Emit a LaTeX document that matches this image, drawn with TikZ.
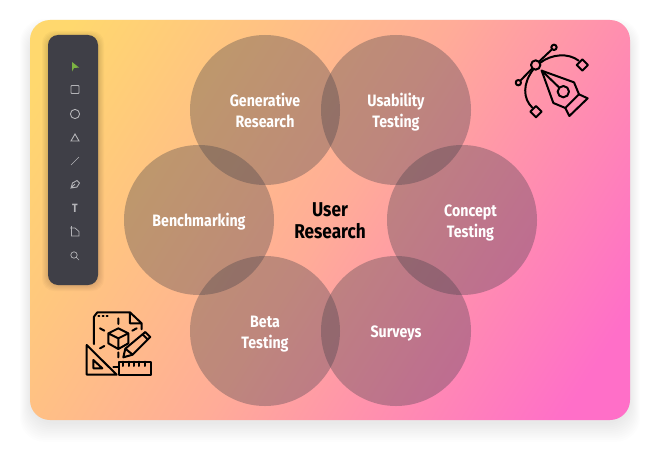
\documentclass[tikz,border=0pt]{standalone}
\usepackage{fontspec}
\setmainfont{Fira Sans}[FakeStretch=0.86]
\usetikzlibrary{positioning}

\definecolor{cardyellow}{HTML}{FFD86E}
\definecolor{cardpeach}{HTML}{FFAC98}
\definecolor{cardpink}{HTML}{FF6FC8}
\definecolor{barcolor}{HTML}{3F3F47}
\definecolor{toolcolor}{HTML}{B4B4B8}
\definecolor{arrowcolor}{HTML}{7CB342}
\definecolor{bubblecolor}{HTML}{3C3C46}
\pgfdeclarehorizontalshading{cardfade}{100bp}{
  color(0bp)=(cardyellow); color(19bp)=(cardyellow);
  color(50bp)=(cardpeach); color(79bp)=(cardpink); color(100bp)=(cardpink)}

\begin{document}
\begin{tikzpicture}[x=1pt, y=-1pt,
	bubble/.style = { circle, fill=bubblecolor, fill opacity=0.33,
	minimum size=150pt, inner sep=0pt },
	bubbletext/.style = { text=white, font=\fontsize{16.5}{21}\selectfont\bfseries,
	align=center, yshift=-2.5pt },
	tool/.style = { draw=toolcolor, line width=0.9pt },
	icon/.style = { draw=black, line width=2pt, line join=round, line cap=round } ]

  \useasboundingbox (0,0) rectangle (660,460);
  \fill [white] (0,0) rectangle (660,460);

  % soft shadow round the card
  \foreach \d in {1,...,11}
	\fill [black, opacity=0.009, rounded corners=24pt]
	  (31-\d,30-\d) rectangle (629+\d,422+\d*1.8);

  \path [rounded corners=20pt, shading=cardfade, shading angle=-32]
	(30,20) rectangle (630,420);

  % toolbar
  \foreach \d in {1,...,7}
	\fill [black, opacity=0.025, rounded corners=12pt]
	  (49-\d,38-\d) rectangle (97+\d,284+\d);
  \fill [barcolor, rounded corners=10pt] (48,35) rectangle (98,285);
  \fill [arrowcolor] (72,62) -- (79,67.5) -- (74,68) -- (72,71.5) -- cycle;
  \draw [tool, rounded corners=0.8pt] (71,85.5) rectangle (79,93.5);
  \draw [tool] (75,114) circle (4.6);
  \draw [tool] (71,141) -- (75,134) -- (79,141) -- cycle;
  \draw [tool, line width=0.6pt] (71,165) -- (79,157);
  \draw [tool] (71,188) -- (72.5,183) -- (77,180.5) -- (79.5,183) -- (77,187) -- cycle
	(71,188) -- (75,184);
  \node [name=tooltext, text=toolcolor, inner sep=0pt,
	font=\fontsize{12}{12}\selectfont\bfseries] at (75,208) {T};
  \draw [tool, line width=0.7pt] (70,228) -- (75,228) -- (79,231.5) -- (79,236) -- (71.5,236) -- (71.5,226);
  \draw [tool, line width=0.7pt] (74,255) circle (3.2) (76.5,257.5) -- (79,260);

  % the six studies
  \node [name=generative, bubble] at (265,110) {};
  \node [name=usability, bubble] at (396,110) {};
  \node [name=benchmarking, bubble] at (199,220) {};
  \node [name=concept, bubble] at (462,220) {};
  \node [name=beta, bubble] at (265,331) {};
  \node [name=surveys, bubble] at (396,331) {};

  \node [bubbletext] at (generative.center) { Generative\strut\\Research\strut };
  \node [bubbletext] at (usability.center) { Usability\strut\\Testing\strut };
  \node [bubbletext] at (benchmarking.center) { Benchmarking\strut };
  \node [bubbletext, xshift=8.5pt] at (concept.center) { Concept\strut\\Testing\strut };
  \node [bubbletext] at (beta.center) { Beta\strut\\Testing\strut };
  \node [bubbletext] at (surveys.center) { Surveys\strut };
  \node [name=research, align=center, text=black, yshift=-3pt,
	font=\fontsize{20}{22}\selectfont\bfseries] at (330,220) { User\strut\\Research\strut };

  % pen tool
  \begin{scope}[shift={(500,30)}, x=0.3333pt, y=-0.3333pt]
	\draw [icon] (107,105) circle (14) (162,52) circle (8) (55,158) circle (8)
	  (117,95) -- (156,58) (97,115) -- (61,152);
	\draw [icon] (230,105) -- (247,88) -- (264,105) -- (247,122) -- cycle;
	\draw [icon] (91,245) -- (108,228) -- (125,245) -- (108,262) -- cycle;
	\draw [icon] (121,98) .. controls (155,72) and (205,68) .. (236,92);
	\draw [icon] (100,118) .. controls (68,160) and (68,205) .. (97,233);
	\draw [icon] (125,122) -- (222,157) -- (237,193) -- (196,234) -- (160,219) -- cycle;
	\draw [icon] (125,122) -- (177,172) (190,185) circle (17);
	\draw [icon] (237,193) -- (263,205) -- (208,258) -- (196,234);
  \end{scope}

  % drawing set
  \begin{scope}[shift={(70,300)}, x=0.3333pt, y=-0.3333pt]
	\draw [icon] (72,132) -- (72,50) -- (82,37) -- (180,37) -- (215,70) -- (215,88)
	  (180,37) -- (180,70) -- (215,70);
	\draw [icon] (85,48) -- (88,48) (98,48) -- (101,48) (110,48) -- (113,48);
	\draw [icon] (145,85) -- (175,100) -- (175,130) -- (145,147) -- (115,130) -- (115,100) -- cycle
	  (115,100) -- (145,115) -- (175,100) (145,115) -- (145,147);
	\draw [icon] (145,55) -- (145,72) (145,157) -- (145,172) (90,85) -- (103,92)
	  (200,85) -- (187,92) (90,145) -- (103,138);
	\draw [icon] (50,135) -- (50,224) -- (140,224) -- cycle (70,180) -- (70,205) -- (97,205) -- cycle;
	\draw [icon] (130,200) -- (147,200) (147,185) rectangle (242,224);
	\draw [icon] (160,185) -- (160,198) (176,185) -- (176,198) (192,185) -- (192,198)
	  (208,185) -- (208,198) (224,185) -- (224,198);
	\draw [icon] (160,172) -- (166,146) -- (226,96) -- (241,111) -- (188,164) -- cycle
	  (166,146) -- (188,164) (218,103) -- (233,118);
  \end{scope}
\end{tikzpicture}
\end{document}
